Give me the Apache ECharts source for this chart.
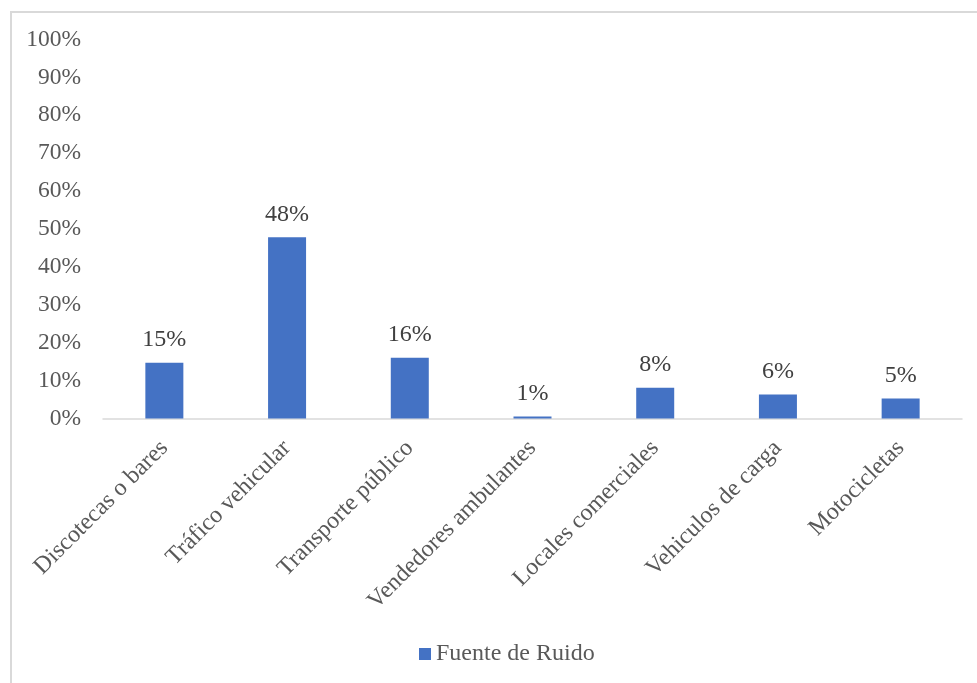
<!DOCTYPE html>
<html>
<head>
<meta charset="utf-8">
<script src="https://cdn.jsdelivr.net/npm/echarts@6/dist/echarts.min.js"></script>
<style>
  html, body { margin: 0; padding: 0; background: #ffffff; }
  #chart { width: 977px; height: 683px; }
</style>
</head>
<body>
<div id="chart"></div>
<script>
// Noise sources and their share of responses (fractions of 1)
var categories = [
  'Discotecas o bares',
  'Tráfico vehicular',
  'Transporte público',
  'Vendedores ambulantes',
  'Locales comerciales',
  'Vehiculos de carga',
  'Motocicletas'
];
var seriesName = 'Fuente de Ruido';
var shares = [0.147, 0.478, 0.160, 0.005, 0.081, 0.063, 0.053];
var yTicks = { min: 0, max: 1, interval: 0.1 };

var chart = echarts.init(document.getElementById('chart'));
var serif = '"Liberation Serif", "Times New Roman", serif';

chart.setOption({
  animation: false,
  backgroundColor: '#ffffff',
  // chart-area frame; its right and bottom edges run past the canvas
  graphic: [{
    type: 'rect',
    left: 8.5, top: 9.5,
    shape: { width: 990, height: 700 },
    style: { fill: 'none', stroke: '#d9d9d9', lineWidth: 2 },
    silent: true
  }],
  grid: { left: 103, right: 15, top: 39.5, bottom: 264.5, containLabel: false },
  legend: {
    data: [seriesName],
    bottom: 12,
    left: 414,
    itemWidth: 12,
    itemHeight: 12,
    itemGap: 5,
    icon: 'rect',
    textStyle: { fontFamily: serif, fontSize: 24, color: '#595959' }
  },
  xAxis: {
    type: 'category',
    data: categories,
    axisLine: { lineStyle: { color: '#d9d9d9', width: 1.5 } },
    axisTick: { show: false },
    axisLabel: {
      rotate: 45,
      interval: 0,
      margin: 26,
      fontFamily: serif,
      fontSize: 24,
      color: '#595959'
    }
  },
  yAxis: {
    type: 'value',
    min: yTicks.min,
    max: yTicks.max,
    interval: yTicks.interval,
    splitLine: { show: false },
    axisLine: { show: false },
    axisTick: { show: false },
    axisLabel: {
      margin: 22,
      fontFamily: serif,
      fontSize: 23.5,
      color: '#595959',
      formatter: function (v) { return Math.round(v * 100) + '%'; }
    }
  },
  series: [{
    name: seriesName,
    type: 'bar',
    data: shares,
    barWidth: 38,
    itemStyle: { color: '#4472c4' },
    label: {
      show: true,
      position: 'top',
      distance: 11,
      fontFamily: serif,
      fontSize: 24,
      color: '#404040',
      formatter: function (p) { return Math.round(p.value * 100) + '%'; }
    }
  }]
});
</script>
</body>
</html>
